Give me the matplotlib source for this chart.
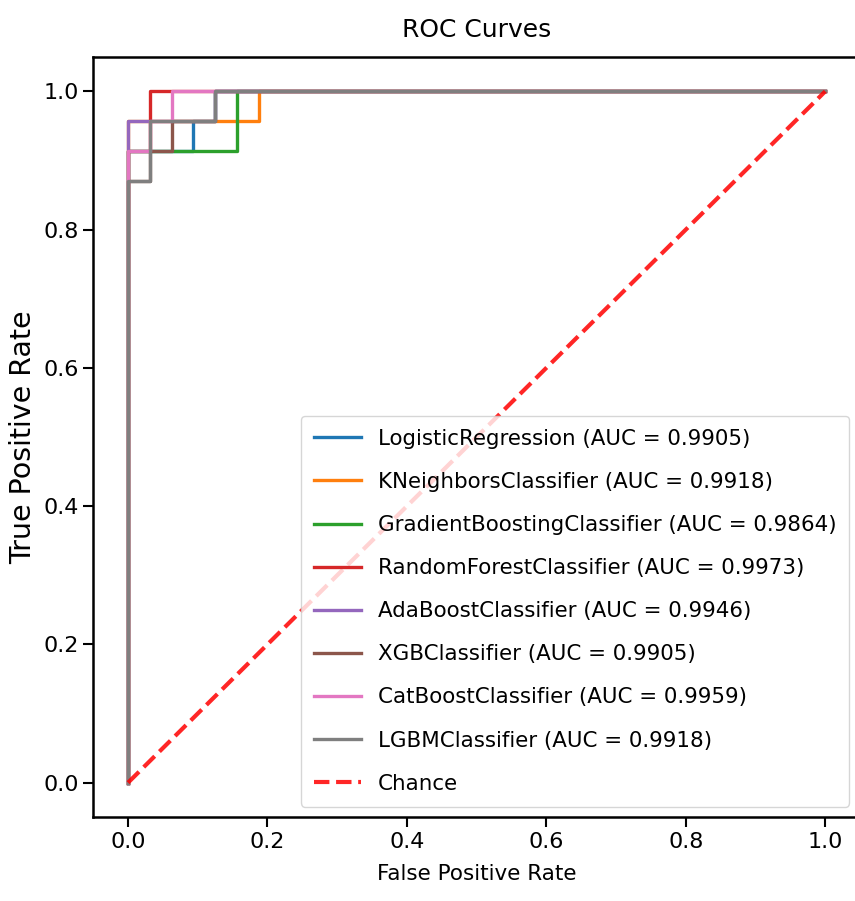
import matplotlib
matplotlib.use('Agg')
import matplotlib.pyplot as plt

# 23 positives, 32 negatives in the test set
P = 23.0
N = 32.0

names = ['LogisticRegression', 'KNeighborsClassifier', 'GradientBoostingClassifier',
         'RandomForestClassifier', 'AdaBoostClassifier', 'XGBClassifier',
         'CatBoostClassifier', 'LGBMClassifier']
aucs = [0.9905, 0.9918, 0.9864, 0.9973, 0.9946, 0.9905, 0.9959, 0.9918]

# ROC points as (false positive count, true positive count)
fp_lr = [0, 0, 3, 3, 4, 4, 32]
tp_lr = [0, 21, 21, 22, 22, 23, 23]
fp_knn = [0, 0, 6, 6, 32]
tp_knn = [0, 22, 22, 23, 23]
fp_gb = [0, 0, 5, 5, 32]
tp_gb = [0, 21, 21, 23, 23]
fp_rf = [0, 0, 1, 1, 32]
tp_rf = [0, 21, 21, 23, 23]
fp_ada = [0, 0, 4, 4, 32]
tp_ada = [0, 22, 22, 23, 23]
fp_xgb = [0, 0, 1, 1, 2, 2, 4, 4, 32]
tp_xgb = [0, 20, 20, 21, 21, 22, 22, 23, 23]
fp_cat = [0, 0, 1, 1, 2, 2, 32]
tp_cat = [0, 21, 21, 22, 22, 23, 23]
fp_lgbm = [0, 0, 1, 1, 4, 4, 32]
tp_lgbm = [0, 20, 20, 22, 22, 23, 23]

fps = [fp_lr, fp_knn, fp_gb, fp_rf, fp_ada, fp_xgb, fp_cat, fp_lgbm]
tps = [tp_lr, tp_knn, tp_gb, tp_rf, tp_ada, tp_xgb, tp_cat, tp_lgbm]

fig = plt.figure(figsize=(8.55, 9.01), dpi=100)
ax = fig.add_axes([0.109, 0.093, 0.897, 0.844])

for name, auc, fp, tp in zip(names, aucs, fps, tps):
    x = [v / N for v in fp]
    y = [v / P for v in tp]
    ax.plot(x, y, linewidth=2.4, label='%s (AUC = %.4f)' % (name, auc))

ax.plot([0, 1], [0, 1], linestyle='--', color='red', linewidth=3, alpha=0.85, label='Chance')

ax.set_xlim(-0.05, 1.05)
ax.set_ylim(-0.05, 1.05)
ax.set_xticks([0.0, 0.2, 0.4, 0.6, 0.8, 1.0])
ax.set_yticks([0.0, 0.2, 0.4, 0.6, 0.8, 1.0])
ax.tick_params(labelsize=16, length=7, width=1.5)
for s in ax.spines.values():
    s.set_linewidth(1.8)

ax.set_title('ROC Curves', fontsize=18, pad=14)
ax.set_xlabel('False Positive Rate', fontsize=15.5, labelpad=9)
ax.set_ylabel('True Positive Rate', fontsize=20.5, labelpad=4)

leg = ax.legend(loc='lower right', fontsize=15.4, labelspacing=1.08,
                handlelength=2.2, borderpad=0.6, borderaxespad=0.5)

plt.savefig('out.png', dpi=100)
